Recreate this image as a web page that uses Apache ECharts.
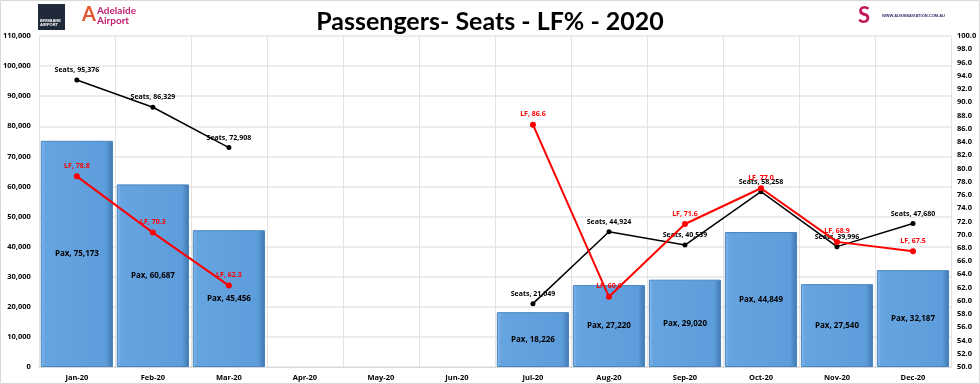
<!DOCTYPE html>
<html>
<head>
<meta charset="utf-8">
<script src="https://cdn.jsdelivr.net/npm/echarts@6/dist/echarts.min.js"></script>
<style>
html,body{margin:0;padding:0;background:#fff;}
#c{width:980px;height:384px;}
</style>
</head>
<body>
<div id="c"></div>
<script>
const categories = ['Jan-20','Feb-20','Mar-20','Apr-20','May-20','Jun-20','Jul-20','Aug-20','Sep-20','Oct-20','Nov-20','Dec-20'];
const paxValues = [75173, 60687, 45456, null, null, null, 18226, 27220, 29020, 44849, 27540, 32187];
const seatsValues = [95376, 86329, 72908, null, null, null, 21049, 44924, 40539, 58258, 39996, 47680];
const lfValues = [78.8, 70.3, 62.3, null, null, null, 86.6, 60.6, 71.6, 77.0, 68.9, 67.5];
const titleText = 'Passengers- Seats - LF% - 2020';

const FONT = 'Lato, "Open Sans", sans-serif';
const LFONT = '"Open Sans", "Noto Sans", sans-serif';
const fmtInt = v => v.toLocaleString('en-US');

const chart = echarts.init(document.getElementById('c'), null, {renderer: 'canvas'});
chart.setOption({
  animation: false,
  backgroundColor: '#fff',
  title: {
    text: titleText,
    left: 'center',
    top: 4,
    textStyle: {fontFamily: FONT, fontWeight: 'bold', fontSize: 25, color: '#000'}
  },
  graphic: [
    {type: 'rect', shape: {x: 0.5, y: 0.5, width: 979, height: 383}, style: {fill: 'none', stroke: '#d9d9d9', lineWidth: 1}, silent: true, z: -1},
    {type: 'rect', shape: {x: 38, y: 4, width: 27, height: 26}, style: {fill: '#1f2a3a'}},
    {type: 'text', left: 40, top: 19, style: {text: 'BRISBANE\nAIRPORT', font: 'bold 4px sans-serif', fill: '#fff', lineHeight: 4}},
    {type: 'text', left: 97, top: 6, style: {text: 'Adelaide\nAirport', font: 'bold 10px ' + FONT, fill: '#c1206e', lineHeight: 10}},
    {type: 'text', left: 82, top: 5, style: {text: 'A', font: 'bold 20px ' + FONT, fill: '#e4572e'}},
    {type: 'text', left: 858, top: 5, style: {text: 'S', font: 'bold 22px ' + FONT, fill: '#c2185b'}},
    {type: 'text', left: 882, top: 14, style: {text: 'WWW.AUSSIEAVIATION.COM.AU', font: 'bold 4px sans-serif', fill: '#2b2f6b'}}
  ],
  grid: {left: 38, right: 29, top: 36, bottom: 17, containLabel: false},
  xAxis: {
    type: 'category',
    data: categories,
    boundaryGap: true,
    axisLine: {show: true, lineStyle: {color: '#d9d9d9'}},
    axisTick: {show: false},
    splitLine: {show: true, lineStyle: {color: '#e3e3e3', width: 1}},
    axisLabel: {fontFamily: LFONT, fontWeight: 'bold', fontSize: 7.5, color: '#000', margin: 7}
  },
  yAxis: [
    {
      type: 'value', min: 0, max: 110000, interval: 10000,
      axisLine: {show: false}, axisTick: {show: false},
      splitLine: {show: true, lineStyle: {color: '#e6e6e6', width: 1.5}},
      axisLabel: {fontFamily: LFONT, fontWeight: 'bold', fontSize: 7.5, color: '#000', margin: 8,
        formatter: v => fmtInt(v)}
    },
    {
      type: 'value', min: 50, max: 100, interval: 2, position: 'right',
      axisLine: {show: false}, axisTick: {show: false},
      splitLine: {show: false},
      axisLabel: {fontFamily: LFONT, fontWeight: 'bold', fontSize: 7.5, color: '#000', margin: 6,
        formatter: v => v.toFixed(1)}
    }
  ],
  series: [
    {
      name: 'Pax', type: 'bar', data: paxValues, yAxisIndex: 0,
      barCategoryGap: '5%',
      itemStyle: {
        color: new echarts.graphic.LinearGradient(0, 0, 1, 0, [
          {offset: 0, color: '#86b9ea'},
          {offset: 0.06, color: '#65a4e0'},
          {offset: 0.9, color: '#5e9ddb'},
          {offset: 1, color: '#3f77b0'}
        ]),
        borderColor: '#4a84bd', borderWidth: 1
      },
      label: {show: true, position: 'inside', fontFamily: LFONT, fontWeight: 'bold', fontSize: 8, color: '#000',
        formatter: p => 'Pax, ' + fmtInt(p.value)}
    },
    {
      name: 'Seats', type: 'line', data: seatsValues, yAxisIndex: 0,
      connectNulls: false,
      symbol: 'circle', symbolSize: 5,
      lineStyle: {color: '#000', width: 1.5},
      itemStyle: {color: '#000'},
      label: {show: true, position: 'top', distance: 4, fontFamily: LFONT, fontWeight: 'bold', fontSize: 7, color: '#000',
        formatter: p => 'Seats, ' + fmtInt(p.value)},
      z: 3
    },
    {
      name: 'LF', type: 'line', data: lfValues, yAxisIndex: 1,
      connectNulls: false,
      symbol: 'circle', symbolSize: 6,
      lineStyle: {color: '#ff0000', width: 2},
      itemStyle: {color: '#ff0000'},
      label: {show: true, position: 'top', distance: 4, fontFamily: LFONT, fontWeight: 'bold', fontSize: 7, color: '#ff0000',
        formatter: p => 'LF, ' + p.value.toFixed(1)},
      z: 4
    }
  ]
});
</script>
</body>
</html>
